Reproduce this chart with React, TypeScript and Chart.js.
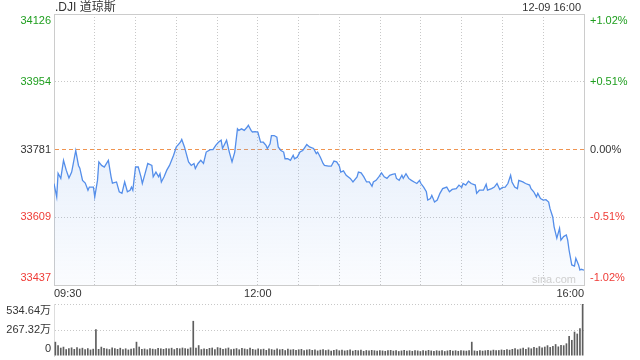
import React, { useEffect, useRef } from 'react';
import { Chart, registerables } from 'chart.js';

Chart.register(...registerables);

const FONT = "'Liberation Sans', Arial, 'Noto Sans CJK SC', sans-serif";

// minutes after 09:30
const priceMinutes = [
  0, 2, 3, 5, 7, 9, 11, 13, 16, 18,
  19, 21, 23, 25, 26, 29, 30, 32, 33, 35,
  37, 40, 42, 43, 46, 48, 50, 52, 54, 56,
  57, 58, 60, 62, 64, 65, 67, 69, 72, 73,
  75, 77, 78, 79, 81, 83, 85, 88, 90, 91,
  93, 94, 96, 99, 101, 103, 104, 106, 108, 110,
  112, 115, 117, 119, 121, 123, 124, 127, 129, 131,
  133, 135, 136, 138, 140, 142, 143, 145, 146, 148,
  150, 152, 154, 156, 157, 159, 160, 162, 164, 165,
  167, 169, 170, 172, 174, 176, 177, 179, 181, 183,
  184, 186, 188, 191, 193, 194, 196, 198, 199, 202,
  204, 206, 208, 210, 211, 213, 215, 218, 220, 223,
  224, 226, 228, 230, 232, 234, 235, 237, 239, 241,
  243, 245, 247, 249, 251, 252, 254, 256, 257, 259,
  261, 263, 265, 267, 269, 270, 272, 274, 275, 277,
  278, 280, 282, 284, 286, 289, 291, 293, 296, 298,
  300, 301, 303, 305, 307, 310, 311, 313, 316, 318,
  319, 322, 324, 326, 328, 330, 332, 334, 336, 337,
  339, 341, 342, 345, 347, 350, 351, 353, 355, 356,
  358, 360, 362, 364, 365, 367, 368, 370, 372, 373,
  375, 377, 378, 379, 381, 383, 384, 386, 387, 388,
  390,
];

const prices = [
  33695, 33661, 33721, 33708, 33754, 33729, 33709, 33724, 33779, 33741,
  33734, 33703, 33696, 33678, 33686, 33686, 33661, 33703, 33750, 33741,
  33737, 33754, 33712, 33696, 33699, 33674, 33670, 33699, 33674, 33678,
  33686, 33678, 33737, 33737, 33712, 33695, 33720, 33746, 33741, 33712,
  33724, 33712, 33720, 33699, 33712, 33729, 33741, 33767, 33788, 33792,
  33800, 33807, 33788, 33750, 33741, 33746, 33733, 33746, 33754, 33746,
  33775, 33781, 33781, 33792, 33800, 33805, 33784, 33805, 33775, 33750,
  33775, 33834, 33830, 33834, 33830, 33838, 33843, 33830, 33826, 33827,
  33826, 33800, 33800, 33792, 33784, 33796, 33817, 33817, 33813, 33788,
  33779, 33775, 33758, 33758, 33754, 33767, 33758, 33762, 33775, 33779,
  33784, 33794, 33788, 33784, 33771, 33775, 33762, 33746, 33741, 33739,
  33739, 33752, 33750, 33739, 33724, 33727, 33716, 33708, 33699, 33712,
  33724, 33722, 33712, 33699, 33699, 33688, 33699, 33703, 33712, 33722,
  33712, 33708, 33716, 33718, 33720, 33708, 33703, 33716, 33708, 33720,
  33708, 33703, 33699, 33695, 33703, 33695, 33686, 33674, 33653, 33657,
  33665, 33648, 33653, 33670, 33682, 33686, 33674, 33680, 33682, 33691,
  33685, 33695, 33691, 33701, 33695, 33691, 33670, 33678, 33678, 33693,
  33678, 33682, 33686, 33695, 33680, 33685, 33686, 33695, 33716, 33699,
  33686, 33682, 33703, 33699, 33695, 33691, 33682, 33674, 33661, 33670,
  33657, 33653, 33654, 33648, 33631, 33610, 33585, 33556, 33581, 33551,
  33560, 33564, 33551, 33526, 33488, 33485, 33505, 33488, 33475, 33477,
  33475,
];

const prevClose = 33781;
const priceTicks = [33437, 33609, 33781, 33954, 34126];
const priceTickLabels = ['33437', '33609', '33781', '33954', '34126'];
const pctTickLabels = ['-1.02%', '-0.51%', '0.00%', '+0.51%', '+1.02%'];
const gridMinutes = [0, 30, 60, 90, 120, 150, 180, 210, 240, 270, 300, 330, 360, 390];
const timeTickMinutes = [0, 150, 390];
const timeTickLabels = ['09:30', '12:00', '16:00'];

// volume in 万, one bar per 2 minutes
const volumes = [
  146, 110, 85, 95, 70, 80, 88, 72, 90, 76, 84, 70, 80, 66, 74, 275, 72, 95, 82, 76,
  70, 88, 80, 72, 84, 70, 78, 66, 74, 80, 146, 96, 72, 76, 68, 80, 74, 70, 82, 78,
  72, 80, 76, 84, 70, 82, 78, 86, 80, 74, 88, 361, 84, 111, 70, 76, 72, 82, 86, 70,
  90, 84, 72, 78, 86, 70, 74, 80, 68, 82, 76, 70, 84, 72, 66, 78, 70, 74, 62, 76,
  70, 64, 78, 68, 72, 60, 74, 66, 70, 62, 68, 72, 58, 66, 70, 62, 68, 56, 64, 70,
  60, 66, 54, 62, 68, 58, 64, 56, 60, 66, 54, 62, 58, 64, 52, 60, 56, 62, 58, 54,
  60, 56, 52, 58, 62, 54, 60, 50, 56, 62, 54, 58, 52, 60, 56, 50, 58, 54, 62, 56,
  52, 58, 54, 60, 50, 56, 62, 54, 58, 52, 60, 56, 54, 58, 146, 56, 52, 60, 54, 58,
  62, 56, 64, 58, 60, 66, 62, 70, 64, 72, 80, 68, 76, 84, 72, 88, 78, 92, 84, 100,
  88, 96, 110, 92, 104, 122, 98, 112, 110, 130, 205, 165, 250, 230, 285, 534.64,
];
const volumeTicks = [0, 267.32, 534.64];
const volumeTickLabels = ['0', '267.32万', '534.64万'];

const GREEN = '#1e9e1e';
const RED = '#ef3b36';
const DARK = '#333333';
const GRID = '#c8c8c8';
const BORDER = '#cccccc';
const ORANGE = 'rgb(240,148,80)';

function edgeLabel(label: string, index: number, count: number): string | string[] {
  if (index === 0) return [label, ''];
  if (index === count - 1) return ['', label];
  return label;
}

function priceColor(v: number) {
  if (v > prevClose + 0.5) return GREEN;
  if (v < prevClose - 0.5) return RED;
  return DARK;
}

export default function App() {
  const mainRef = useRef<HTMLCanvasElement>(null);
  const volRef = useRef<HTMLCanvasElement>(null);

  useEffect(() => {
    document.body.style.margin = '0';
    const priceData = priceMinutes.map((m, i) => ({ x: m, y: prices[i] }));

    const main = new Chart(mainRef.current as HTMLCanvasElement, {
      type: 'line',
      data: {
        datasets: [
          {
            data: priceData,
            borderColor: 'rgb(84,142,234)',
            borderWidth: 1.3,
            pointRadius: 0,
            tension: 0,
            fill: 'start',
            backgroundColor: (ctx: any) => {
              const { chart } = ctx;
              const area = chart.chartArea;
              if (!area) return 'rgba(120,170,240,0.15)';
              const g = chart.ctx.createLinearGradient(0, area.top, 0, area.bottom);
              g.addColorStop(0, 'rgba(110,160,235,0.28)');
              g.addColorStop(1, 'rgba(110,160,235,0.03)');
              return g;
            },
          },
        ],
      },
      options: {
        responsive: false,
        animation: false,
        events: [],
        layout: { padding: { top: 14, left: 0, right: 0, bottom: 0 } },
        plugins: { legend: { display: false }, tooltip: { enabled: false } },
        scales: {
          x: {
            type: 'linear',
            min: 0,
            max: 390,
            afterBuildTicks: (s: any) => {
              s.ticks = gridMinutes.map((v) => ({ value: v }));
            },
            afterFit: (s: any) => {
              s.height = 15;
              s.paddingLeft = 0;
              s.paddingRight = 0;
            },
            ticks: {
              autoSkip: false,
              maxRotation: 0,
              minRotation: 0,
              align: 'inner',
              padding: 2,
              color: DARK,
              font: { family: FONT, size: 11 },
              callback: (v: any) => {
                const k = timeTickMinutes.indexOf(Number(v));
                return k >= 0 ? timeTickLabels[k] : '';
              },
            },
            grid: {
              drawTicks: false,
              color: (c: any) =>
                c.tick && (c.tick.value === 0 || c.tick.value === 390) ? 'rgba(0,0,0,0)' : GRID,
              lineWidth: 1,
            },
            border: { display: true, color: BORDER, dash: (c: any) => (c.tick ? [1, 2] : []) },
          },
          y: {
            type: 'linear',
            position: 'left',
            min: 33437,
            max: 34126,
            afterBuildTicks: (s: any) => {
              s.ticks = priceTicks.map((v) => ({ value: v }));
            },
            afterFit: (s: any) => {
              s.width = 54;
              s.paddingTop = 0;
              s.paddingBottom = 0;
            },
            ticks: {
              autoSkip: false,
              padding: 3,
              font: { family: FONT, size: 11, lineHeight: 1.2 },
              color: (c: any) => priceColor(c.tick.value),
              callback: (v: any, i: number, t: any[]) => {
                const k = priceTicks.indexOf(Number(v));
                return edgeLabel(priceTickLabels[k], i, t.length);
              },
            },
            grid: {
              drawTicks: false,
              lineWidth: 1,
              color: (c: any) => {
                if (!c.tick) return GRID;
                const v = c.tick.value;
                if (v === 33781) return ORANGE;
                if (v === 33437) return 'rgba(0,0,0,0)';
                if (v === 34126) return BORDER;
                return GRID;
              },
            },
            border: {
              display: true,
              color: BORDER,
              dash: (c: any) => {
                if (!c.tick) return [];
                const v = c.tick.value;
                if (v === 33781) return [4, 3];
                if (v === 34126) return [];
                return [1, 2];
              },
            },
          },
          y2: {
            type: 'linear',
            position: 'right',
            min: 33437,
            max: 34126,
            afterBuildTicks: (s: any) => {
              s.ticks = priceTicks.map((v) => ({ value: v }));
            },
            afterFit: (s: any) => {
              s.width = 56;
              s.paddingTop = 0;
              s.paddingBottom = 0;
            },
            ticks: {
              autoSkip: false,
              padding: 6,
              font: { family: FONT, size: 11, lineHeight: 1.2 },
              color: (c: any) => priceColor(c.tick.value),
              callback: (v: any, i: number, t: any[]) => {
                const k = priceTicks.indexOf(Number(v));
                return edgeLabel(pctTickLabels[k], i, t.length);
              },
            },
            grid: { drawOnChartArea: false, drawTicks: false },
            border: { display: true, color: BORDER },
          },
        },
      } as any,
    });

    const vol = new Chart(volRef.current as HTMLCanvasElement, {
      type: 'bar',
      data: {
        labels: volumes.map((_, i) => String(i)),
        datasets: [
          {
            data: volumes,
            backgroundColor: '#5e5e5e',
            borderWidth: 0,
            categoryPercentage: 1,
            barPercentage: 0.62,
          },
        ],
      },
      options: {
        responsive: false,
        animation: false,
        events: [],
        layout: { padding: { top: 4, left: 0, right: 56, bottom: 4 } },
        plugins: { legend: { display: false }, tooltip: { enabled: false } },
        scales: {
          x: { type: 'category', display: false, offset: true },
          y: {
            type: 'linear',
            min: 0,
            max: 534.64,
            afterBuildTicks: (s: any) => {
              s.ticks = volumeTicks.map((v) => ({ value: v }));
            },
            afterFit: (s: any) => {
              s.width = 54;
              s.paddingTop = 0;
              s.paddingBottom = 0;
            },
            ticks: {
              autoSkip: false,
              padding: 3,
              color: DARK,
              font: { family: FONT, size: 11, lineHeight: 1.35 },
              callback: (v: any, i: number, t: any[]) => {
                const k = volumeTicks.indexOf(Number(v));
                return edgeLabel(volumeTickLabels[k], i, t.length);
              },
            },
            grid: {
              drawTicks: false,
              lineWidth: 1,
              color: (c: any) => (c.tick && c.tick.value === 0 ? 'rgba(0,0,0,0)' : GRID),
            },
            border: { display: true, color: '#dddddd', dash: (c: any) => (c.tick ? [1, 2] : []) },
          },
        },
      } as any,
    });

    return () => {
      main.destroy();
      vol.destroy();
    };
  }, []);

  return (
    <div style={{ position: 'relative', width: 640, height: 360, background: '#fff', fontFamily: FONT }}>
      <canvas
        ref={mainRef}
        width={640}
        height={300}
        style={{ position: 'absolute', left: 0, top: 0, width: 640, height: 300 }}
      />
      <canvas
        ref={volRef}
        width={640}
        height={60}
        style={{ position: 'absolute', left: 0, top: 300, width: 640, height: 60 }}
      />
      <div
        style={{
          position: 'absolute',
          left: 55,
          top: 0,
          fontSize: 12,
          lineHeight: '14px',
          color: DARK,
          whiteSpace: 'nowrap',
        }}
      >
        .DJI 道琼斯
      </div>
      <div
        style={{
          position: 'absolute',
          right: 59,
          top: 0,
          fontSize: 11,
          lineHeight: '14px',
          color: DARK,
          whiteSpace: 'nowrap',
          textAlign: 'right',
        }}
      >
        12-09 16:00
      </div>
      <div
        style={{
          position: 'absolute',
          left: 532,
          top: 272,
          fontSize: 11,
          lineHeight: '14px',
          color: '#cfcfcf',
          whiteSpace: 'nowrap',
        }}
      >
        sina.com
      </div>
    </div>
  );
}
